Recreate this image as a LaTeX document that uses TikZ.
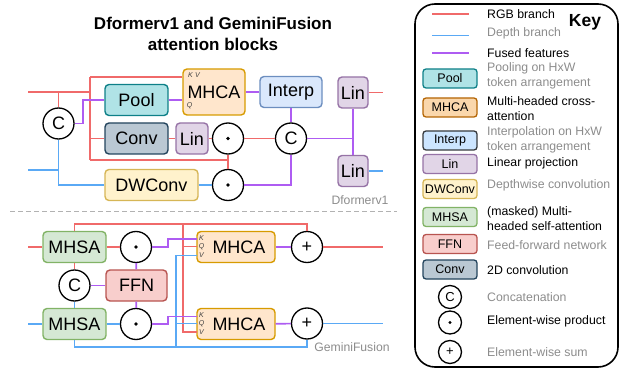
\documentclass[tikz,border=0pt]{standalone}
\usepackage{fontspec}
\setmainfont{Liberation Sans}
\usetikzlibrary{calc}

% connector colours
\definecolor{rgbc}{HTML}{F06A6A}
\definecolor{depc}{HTML}{5AA9F5}
\definecolor{fusc}{HTML}{AE5CF2}
\definecolor{notec}{HTML}{8C8C8C}
% block fills and strokes
\definecolor{poolF}{HTML}{B0E3E6}\definecolor{poolD}{HTML}{0E8088}
\definecolor{mhcaF}{HTML}{FFE6CC}\definecolor{mhcaD}{HTML}{D79B00}
\definecolor{mhcaKF}{HTML}{FAD7AC}\definecolor{mhcaKD}{HTML}{B46504}
\definecolor{intF}{HTML}{DAE8FC}\definecolor{intD}{HTML}{6C8EBF}
\definecolor{intKF}{HTML}{CCE5FF}\definecolor{intKD}{HTML}{36393D}
\definecolor{linF}{HTML}{E1D5E7}\definecolor{linD}{HTML}{9673A6}
\definecolor{dwF}{HTML}{FFF2CC}\definecolor{dwD}{HTML}{D6B656}
\definecolor{msaF}{HTML}{D5E8D4}\definecolor{msaD}{HTML}{82B366}
\definecolor{ffnF}{HTML}{F8CECC}\definecolor{ffnD}{HTML}{B85450}
\definecolor{cnvF}{HTML}{BAC8D3}\definecolor{cnvD}{HTML}{23445D}

\tikzset{
  blk/.style={draw, rounded corners=4pt, line width=1.4pt, minimum height=31pt,
    inner sep=0pt, font=\fontsize{18}{18}\selectfont},
  kblk/.style={draw, rounded corners=3pt, line width=1.3pt, minimum width=54pt,
    minimum height=19pt, inner sep=0pt, font=\fontsize{12.5}{12.5}\selectfont},
  op/.style={draw, circle, line width=1.3pt, minimum size=31pt, inner sep=0pt,
    font=\fontsize{18}{18}\selectfont},
  kop/.style={draw, circle, line width=1.3pt, minimum size=23pt, inner sep=0pt,
    font=\fontsize{13}{13}\selectfont},
  rgb/.style={draw=rgbc, line width=1.7pt},
  dep/.style={draw=depc, line width=1.7pt},
  fus/.style={draw=fusc, line width=1.7pt},
  port/.style={inner sep=0pt, font=\fontsize{7}{7}\selectfont\itshape, text=black!75},
  note/.style={inner sep=0pt, text=notec, font=\fontsize{12.2}{12.2}\selectfont},
  ktxt/.style={anchor=west, inner sep=0pt, align=left,
    font=\fontsize{12.3}{14.7}\selectfont},
  sepline/.style={draw=black!30, line width=1.5pt, dash pattern=on 5pt off 3pt},
}

\begin{document}
\begin{tikzpicture}[x=1pt, y=-1pt]
\useasboundingbox (0,0) rectangle (625,369);

% ---------- title ----------
\node[align=center, inner sep=0pt, font=\fontsize{17}{21}\selectfont\bfseries]
  (ttl) at (213,33.5) {Dformerv1 and GeminiFusion\\attention blocks};

% ---------- Dformerv1 block ----------
\node[blk, fill=poolF, draw=poolD, minimum width=63pt] (pool) at (136.5,100) {Pool};
\node[blk, fill=cnvF, draw=cnvD, minimum width=63pt] (conv) at (136.5,138.5) {Conv};
\node[blk, fill=dwF, draw=dwD, minimum width=93pt] (dwconv) at (151.5,185) {DWConv};
\node[blk, fill=mhcaF, draw=mhcaD, minimum width=62pt, minimum height=46pt] (mhcaT) at (214,92) {MHCA};
\node[port] (mhcaTkv) at (194,75) {K\,\,V};
\node[port] (mhcaTq) at (189.5,106) {Q};
\node[blk, fill=linF, draw=linD, minimum width=32pt] (linA) at (192,138.5) {Lin};
\node[op] (dotA) at (228,138.5) {};
\node[op] (dotB) at (228,185) {};
\fill (dotA) circle (1.9pt);
\fill (dotB) circle (1.9pt);
\node[op] (cA) at (58.5,123.5) {C};
\node[op] (cB) at (291,138.5) {C};
\node[blk, fill=intF, draw=intD, minimum width=62pt] (interp) at (291,92) {Interp};
\node[blk, fill=linF, draw=linD, minimum width=30pt] (linT) at (353,92.5) {Lin};
\node[blk, fill=linF, draw=linD, minimum width=30pt] (linB) at (353,171) {Lin};
\node[note] (lblD) at (360,200) {Dformerv1};

% RGB wiring
\coordinate (rgbIn) at (28,92);
\coordinate (rgbJ) at (90,92);
\coordinate (rgbTop) at (90,77);
\coordinate (rgbBot) at (90,160);
\draw[rgb] (rgbIn) -- (rgbJ);
\draw[rgb] (cA.north) -- (cA.north |- rgbIn);
\draw[rgb] (rgbTop) -- (rgbBot);
\draw[rgb] (rgbTop) -- (rgbTop -| mhcaT.west);
\draw[rgb] (conv.west -| rgbTop) -- (conv.west);
\draw[rgb] (rgbBot) -- (rgbBot -| dotA);
\draw[rgb] (dotA.south) -- (dotB.north);
\draw[rgb] (conv) -- (linA);
\draw[rgb] (linA) -- (dotA);
\draw[rgb] (dotA) -- (cB);
\coordinate (rgbOutT) at (383,92.5);
\draw[rgb] (linT) -- (rgbOutT);

% depth wiring
\coordinate (depIn) at (28,170);
\draw[dep] (depIn) -- (depIn -| cA);
\draw[dep] (cA.south) |- (dwconv.west);
\draw[dep] (dwconv) -- (dotB);
\coordinate (depOutT) at (383,171);
\draw[dep] (linB) -- (depOutT);

% fused wiring
\draw[fus] (cA.east) -- ++(8,0) |- (pool.west);
\draw[fus] (pool.east) -- (pool.east -| mhcaT.west);
\draw[fus] (mhcaT) -- (interp);
\draw[fus] (interp) -- (cB);
\draw[fus] (dotB.east) -| (cB.south);
\draw[fus] (cB.east) -- (cB.east -| linT);
\draw[fus] (linT) -- (linB);

% separator
\coordinate (sepL) at (10,211.5);
\coordinate (sepR) at (397,211.5);
\draw[sepline] (sepL) -- (sepR);

% ---------- GeminiFusion block ----------
\node[blk, fill=msaF, draw=msaD, minimum width=63pt] (mhsaT) at (74.5,247) {MHSA};
\node[blk, fill=msaF, draw=msaD, minimum width=63pt] (mhsaB) at (74.5,324) {MHSA};
\node[op] (cC) at (74.5,285.5) {C};
\node[blk, fill=ffnF, draw=ffnD, minimum width=61pt] (ffn) at (136.5,285.5) {FFN};
\node[op] (dotC) at (136,247) {};
\node[op] (dotD) at (136,324) {};
\fill (dotC) circle (1.9pt);
\fill (dotD) circle (1.9pt);
\node[blk, fill=mhcaF, draw=mhcaD, minimum width=78pt] (mhcaA) at (236,247) {\hspace*{6pt}MHCA};
\node[blk, fill=mhcaF, draw=mhcaD, minimum width=78pt] (mhcaB) at (236,324) {\hspace*{6pt}MHCA};
\node[port] (mhcaAk) at (201.5,238) {K};
\node[port] (mhcaAq) at (201.5,246.5) {Q};
\node[port] (mhcaAv) at (201.5,255.5) {V};
\node[port] (mhcaBk) at (201.5,315.5) {K};
\node[port] (mhcaBq) at (201.5,323.5) {Q};
\node[port] (mhcaBv) at (201.5,332.5) {V};
\node[op, font=\fontsize{18}{18}\selectfont] (plusA) at (307,247) {+};
\node[op, font=\fontsize{18}{18}\selectfont] (plusB) at (307,323.5) {+};
\node[note] (lblG) at (352,347) {GeminiFusion};

% attention input ports
\coordinate (aK) at (197,239);
\coordinate (aQ) at (197,246.5);
\coordinate (aV) at (197,255.5);
\coordinate (bK) at (197,316.5);
\coordinate (bQ) at (197,323.5);
\coordinate (bV) at (197,332);

% RGB wiring
\coordinate (rgbIn2) at (28,247);
\coordinate (rgbRail) at (74.5,224);
\coordinate (rgbDrop) at (183,224);
\coordinate (rgbOut2) at (383,247);
\draw[rgb] (rgbIn2) -- (mhsaT);
\draw[rgb] (mhsaT) -- (dotC);
\draw[rgb] (mhsaT) -- (cC);
\draw[rgb] (mhsaT.north) -- (rgbRail) -| (plusA.north);
\draw[rgb] (rgbDrop) |- (bV);
\draw[rgb] (aQ -| rgbDrop) -- (aQ);
\draw[rgb] (plusA) -- (rgbOut2);

% depth wiring
\coordinate (depIn2) at (28,324);
\coordinate (depRail) at (74.5,347);
\coordinate (depDrop) at (176,347);
\coordinate (depOut2) at (383,323.5);
\draw[dep] (depIn2) -- (mhsaB);
\draw[dep] (cC) -- (mhsaB);
\draw[dep] (mhsaB) -- (dotD);
\draw[dep] (mhsaB.south) -- (depRail) -| (plusB.south);
\draw[dep] (depDrop) |- (aV);
\draw[dep] (bQ -| depDrop) -- (bQ);
\draw[dep] (plusB) -- (depOut2);

% fused wiring
\draw[fus] (cC) -- (ffn);
\draw[fus] (ffn) -- (dotC);
\draw[fus] (ffn) -- (dotD);
\draw[fus] (dotC.east) -- ++(16,0) |- (aK);
\draw[fus] (dotD.east) -- ++(16,0) |- (bK);
\draw[fus] (mhcaA) -- (plusA);
\draw[fus] (mhcaB) -- (plusB);

% ---------- key ----------
\node[draw, rounded corners=20pt, line width=1.6pt, minimum width=203pt,
  minimum height=363pt, inner sep=0pt] (keyBox) at (516.5,185.5) {};
\node[inner sep=0pt, font=\fontsize{17.5}{17.5}\selectfont\bfseries] (keyT) at (585,22) {Key};

\coordinate (kR1) at (432,14);   \coordinate (kR2) at (469,14);
\coordinate (kD1) at (432,35.5); \coordinate (kD2) at (469,35.5);
\coordinate (kF1) at (432,53);   \coordinate (kF2) at (469,53);
\draw[rgb] (kR1) -- (kR2);
\draw[dep] (kD1) -- (kD2);
\draw[fus] (kF1) -- (kF2);
\node[ktxt] (tR) at (487,14) {RGB branch};
\node[ktxt, text=notec] (tD) at (487,33.5) {Depth branch};
\node[ktxt] (tF) at (487,53) {Fused features};

\node[kblk, fill=poolF, draw=poolD] (kPool) at (450,78.5) {Pool};
\node[ktxt, text=notec] (tPool) at (487,76) {Pooling on HxW\\token arrangement};
\node[kblk, fill=mhcaKF, draw=mhcaKD] (kMhca) at (450,107.5) {MHCA};
\node[ktxt] (tMhca) at (487,108.5) {Multi-headed cross-\\attention};
\node[kblk, fill=intKF, draw=intKD] (kInt) at (450,140.5) {Interp};
\node[ktxt, text=notec] (tInt) at (487,139.5) {Interpolation on HxW\\token arrangement};
\node[kblk, fill=linF, draw=linD] (kLin) at (450,164) {Lin};
\node[ktxt] (tLin) at (487,163) {Linear projection};
\node[kblk, fill=dwF, draw=dwD] (kDw) at (450,189) {DWConv};
\node[ktxt, text=notec] (tDw) at (487,185.5) {Depthwise convolution};
\node[kblk, fill=msaF, draw=msaD] (kMsa) at (450,217) {MHSA};
\node[ktxt] (tMsa) at (487,218.5) {(masked) Multi-\\headed self-attention};
\node[kblk, fill=ffnF, draw=ffnD] (kFfn) at (450,244) {FFN};
\node[ktxt, text=notec] (tFfn) at (487,245) {Feed-forward network};
\node[kblk, fill=cnvF, draw=cnvD] (kCnv) at (450,269.5) {Conv};
\node[ktxt] (tCnv) at (487,270) {2D convolution};
\node[kop] (kCat) at (450,297) {C};
\node[ktxt, text=notec] (tCat) at (487,297) {Concatenation};
\node[kop] (kDot) at (450,322.5) {};
\fill (kDot) circle (1.6pt);
\node[ktxt] (tDot) at (487,321.5) {Element-wise product};
\node[kop] (kSum) at (450,352) {+};
\node[ktxt, text=notec] (tSum) at (487,352) {Element-wise sum};
\end{tikzpicture}
\end{document}
